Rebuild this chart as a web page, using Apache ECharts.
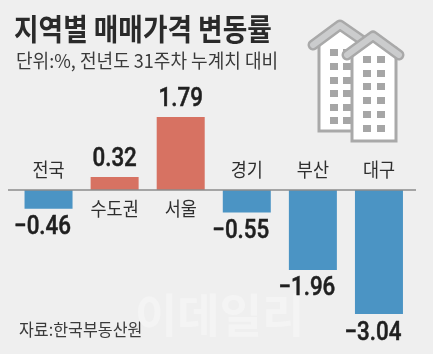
<!DOCTYPE html>
<html>
<head>
<meta charset="utf-8">
<style>
  html, body { margin: 0; padding: 0; background: #efefef; }
  #chart { width: 433px; height: 354px; }
</style>
<script src="https://cdn.jsdelivr.net/npm/echarts@6/dist/echarts.min.js"></script>
</head>
<body>
<div id="chart"></div>
<script>
const regions = ['전국', '수도권', '서울', '경기', '부산', '대구'];
const changes = [-0.46, 0.32, 1.79, -0.55, -1.96, -3.04];

const KR = '"Noto Sans CJK KR", sans-serif';
const RED = '#d77262';
const BLUE = '#4b94c4';
const GREY = '#a9a9a9';

// text squeezed sideways, the original type is condensed
function label(text, x, y, size, weight, color, scaleX) {
  return {
    type: 'text', x: x, y: y, scaleX: scaleX || 1,
    style: { text: text, font: weight + ' ' + size + 'px ' + KR, fill: color, textVerticalAlign: 'middle' }
  };
}

function building(bodyX, bodyW, bottom, roof, cols, rows, z) {
  const parts = [
    {
      type: 'polygon', z: z,
      shape: { points: [[bodyX, roof[1][1] + 12], [roof[1][0], roof[1][1] + 3], [bodyX + bodyW, roof[1][1] + 12], [bodyX + bodyW, bottom], [bodyX, bottom]] },
      style: { fill: '#fff', stroke: GREY, lineWidth: 3 }
    }
  ];
  cols.forEach(function (cx) {
    rows.forEach(function (ry) {
      parts.push({ type: 'rect', z: z, shape: { x: cx, y: ry, width: 8, height: 7 }, style: { fill: '#a6a6a6' } });
    });
  });
  parts.push({
    type: 'polyline', z: z,
    shape: { points: roof },
    style: { stroke: GREY, lineWidth: 11, lineCap: 'round', lineJoin: 'round', fill: null }
  });
  parts.push({
    type: 'polyline', z: z,
    shape: { points: roof },
    style: { stroke: '#cbcccd', lineWidth: 6, lineCap: 'round', lineJoin: 'round', fill: null }
  });
  return parts;
}

function renderValue(params, api) {
  const i = api.value(0);
  const v = api.value(1);
  const pt = api.coord([i, v]);
  const text = v < 0 ? '\u2212' + Math.abs(v).toFixed(2) : v.toFixed(2);
  return {
    type: 'text',
    x: pt[0] + (v < 0 ? -6 : 0),
    y: pt[1] + (v < 0 ? 19 : -17),
    scaleX: 0.86,
    style: {
      text: text,
      font: '500 26px Roboto, sans-serif',
      fill: '#1f1f1f',
      stroke: '#1f1f1f',
      lineWidth: 0.5,
      textAlign: 'center',
      textVerticalAlign: 'middle'
    }
  };
}

function renderRegion(params, api) {
  const i = api.value(0);
  const pt = api.coord([i, 0]);
  return {
    type: 'text',
    x: pt[0],
    y: pt[1] + (changes[i] > 0 ? 19 : -20),
    scaleX: 0.92,
    style: {
      text: regions[i],
      font: '19px ' + KR,
      fill: '#2e2e2e',
      textAlign: 'center',
      textVerticalAlign: 'middle'
    }
  };
}

const chart = echarts.init(document.getElementById('chart'));
chart.setOption({
  backgroundColor: '#efefef',
  animation: false,
  grid: { left: 15.5, right: 21, top: 108.4, height: 244.8 },
  xAxis: {
    type: 'category',
    data: regions,
    axisLine: { show: false },
    axisTick: { show: false },
    axisLabel: { show: false }
  },
  yAxis: { type: 'value', min: -4, max: 2, interval: 1, show: false },
  graphic: [
    label('지역별 매매가격 변동률', 14, 29, 30, 'bold', '#2a2a2a', 0.89),
    label('단위:%, 전년도 31주차 누계치 대비', 16, 61, 19, 'normal', '#3a3a3a', 0.95),
    label('자료:한국부동산원', 19, 330, 17, 'normal', '#3a3a3a', 0.95),
    label('이데일리', 135, 315, 46, 'bold', '#f4f4f4', 1),
    { type: 'line', z: 5, shape: { x1: 8, y1: 190, x2: 416, y2: 190 }, style: { stroke: '#8c8c8c', lineWidth: 1.5 } }
  ].concat(
    building(319, 41, 131, [[313, 45], [340, 25], [366, 43]], [330, 343], [49, 63, 77, 90, 104, 117], 1),
    building(352, 44, 141, [[347, 55], [373, 36], [399, 55]], [363, 377], [56, 70, 83, 97, 111, 125], 2)
  ),
  series: [
    {
      type: 'bar',
      barWidth: 48,
      data: changes.map(function (v) {
        return { value: v, itemStyle: { color: v > 0 ? RED : BLUE } };
      })
    },
    {
      type: 'custom',
      silent: true,
      renderItem: renderValue,
      data: changes.map(function (v, i) { return [i, v]; })
    },
    {
      type: 'custom',
      silent: true,
      renderItem: renderRegion,
      data: regions.map(function (r, i) { return [i, 0]; })
    }
  ]
});
</script>
</body>
</html>
